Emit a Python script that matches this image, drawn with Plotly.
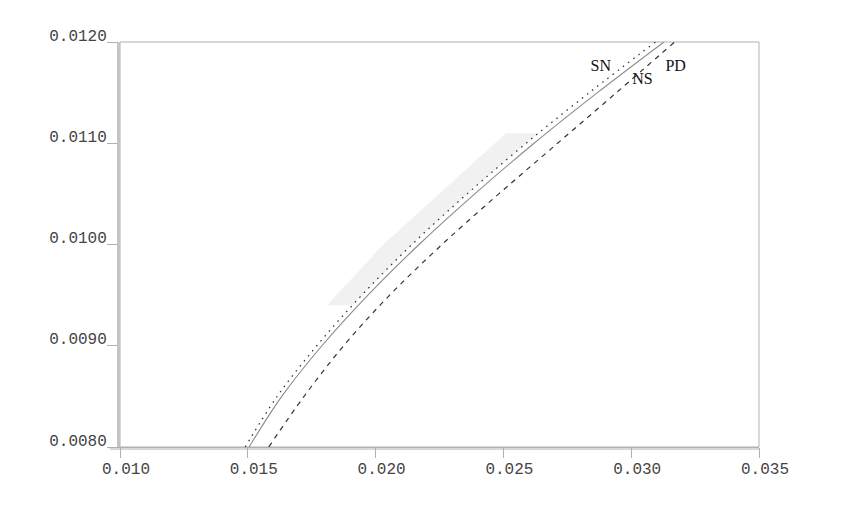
import plotly.graph_objects as go

# common y grid for the three curves
curve_y = [0.0080, 0.0085, 0.0090, 0.0095, 0.0100, 0.0105, 0.0110, 0.0115, 0.0120]

# NS (solid) curve
ns_x = [0.01505, 0.01633, 0.01790, 0.01970, 0.02170, 0.02388, 0.02620, 0.02868, 0.03128]
# SN (dotted) curve
sn_x = [0.01490, 0.01615, 0.01770, 0.01946, 0.02142, 0.02358, 0.02589, 0.02836, 0.03095]
# PD (dashed) curve
pd_x = [0.01582, 0.01720, 0.01875, 0.02055, 0.02260, 0.02482, 0.02712, 0.02942, 0.03170]

# shaded region boundary
shade_x = [0.0181, 0.0203, 0.0251, 0.02638, 0.02589, 0.02358, 0.02142, 0.0191, 0.0181]
shade_y = [0.0094, 0.0100, 0.0111, 0.0111, 0.0110, 0.0105, 0.0100, 0.0094, 0.0094]

# curve labels
label_text = ["SN", "NS", "PD"]
label_x = [0.02881, 0.03044, 0.03174]
label_y = [0.01175, 0.01162, 0.01175]

x_ticks = [0.010, 0.015, 0.020, 0.025, 0.030, 0.035]
y_ticks = [0.0080, 0.0090, 0.0100, 0.0110, 0.0120]

fig = go.Figure()

fig.add_trace(go.Scatter(x=shade_x, y=shade_y, mode="lines", fill="toself",
                         fillcolor="#f1f1f1", line=dict(width=0), hoverinfo="skip",
                         showlegend=False))
fig.add_trace(go.Scatter(x=sn_x, y=curve_y, mode="lines", line_shape="spline",
                         line=dict(color="#333333", width=1.3, dash="1.5px,5px"),
                         showlegend=False))
fig.add_trace(go.Scatter(x=ns_x, y=curve_y, mode="lines", line_shape="spline",
                         line=dict(color="#8a8a8a", width=1.1),
                         showlegend=False))
fig.add_trace(go.Scatter(x=pd_x, y=curve_y, mode="lines", line_shape="spline",
                         line=dict(color="#333333", width=1.2, dash="5px,5px"),
                         showlegend=False))

fig.add_trace(go.Scatter(x=label_x, y=label_y, mode="text", text=label_text,
                         textfont=dict(family="Liberation Serif", size=16, color="#111111"),
                         showlegend=False, hoverinfo="skip"))

tickfont = dict(family="Liberation Mono", size=16, color="#444444")

fig.update_layout(
    width=862, height=532,
    margin=dict(l=112, r=111, t=34, b=93),
    paper_bgcolor="white", plot_bgcolor="white",
    xaxis=dict(range=[0.010, 0.035], tickvals=x_ticks, tickformat=".3f",
               showgrid=False, zeroline=False, showline=True, linecolor="#b0b0b0",
               linewidth=1, ticks="outside", ticklen=10, tickcolor="#b0b0b0",
               tickfont=tickfont, ticklabelshift=6, ticklabelstandoff=-3),
    yaxis=dict(range=[0.008, 0.012], tickvals=y_ticks, tickformat=".4f",
               showgrid=False, zeroline=False, showline=True, linecolor="#c4c4c4",
               linewidth=3, ticks="outside", ticklen=10, tickcolor="#b0b0b0",
               tickfont=tickfont, ticklabelshift=-7, ticklabelstandoff=-3),
    shapes=[
        dict(type="rect", xref="paper", yref="paper", x0=0, x1=1, y0=0, y1=1,
             line=dict(color="#b0b0b0", width=1), layer="below"),
        dict(type="line", xref="paper", yref="paper", x0=-0.016, x1=1, y0=-0.005, y1=-0.005,
             line=dict(color="#b0b0b0", width=1)),
    ],
)

fig.write_html("out.html")
